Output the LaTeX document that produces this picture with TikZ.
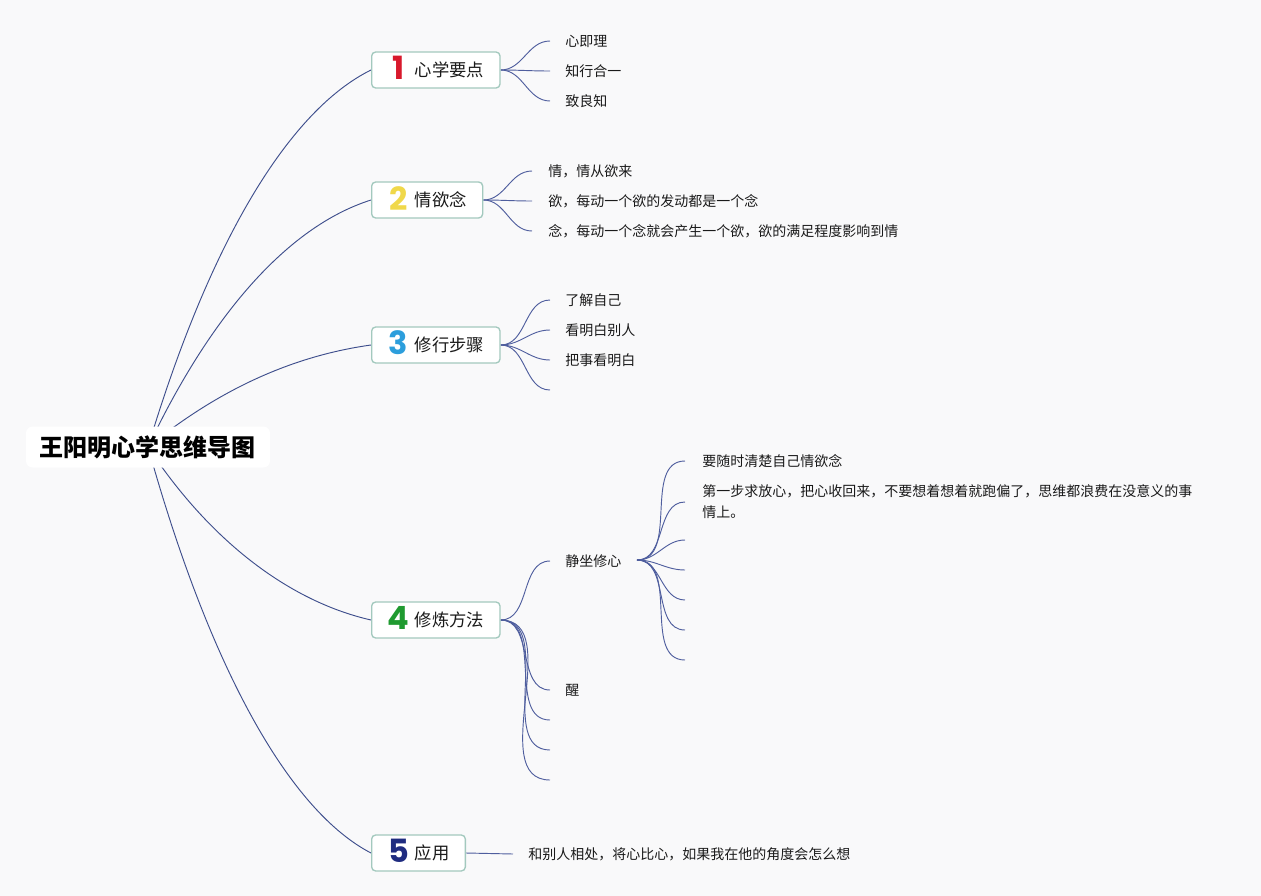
\documentclass[tikz,border=0pt]{standalone}
\usepackage{fontspec}
\setmainfont{Noto Sans CJK SC}
\newfontfamily\numfont{Poppins}
\usetikzlibrary{calc,backgrounds}
\definecolor{bgc}{HTML}{F9F9FA}
\definecolor{linec}{HTML}{4F5E9E}
\definecolor{rootlc}{HTML}{3E4E8C}
\definecolor{boxc}{HTML}{A3C9BE}
\definecolor{textc}{HTML}{1A1A1A}
\definecolor{n1}{HTML}{D8192C}
\definecolor{n2}{HTML}{F0D84A}
\definecolor{n3}{HTML}{2C9EDC}
\definecolor{n4}{HTML}{1F9A30}
\definecolor{n5}{HTML}{1F2C80}
\newcommand\bnum[2]{\makebox[16.5pt][c]{\smash{\raisebox{-2.5pt}{\numfont\bfseries\fontsize{24pt}{24pt}\selectfont\color{#1}#2}}}\hspace{3.75pt}}
\begin{document}
\begin{tikzpicture}[x=0.75pt,y=-0.75pt,
  conn/.style={draw=linec, line width=0.7pt},
  rconn/.style={draw=rootlc, line width=0.7pt},
  leaf/.style={anchor=west, inner sep=0pt, font=\fontsize{10.5pt}{13pt}\selectfont, text=textc},
  branch/.style={draw=boxc, fill=white, rounded corners=3pt, line width=1pt,
    minimum height=27pt, inner xsep=12pt, inner ysep=0pt, anchor=west,
    font=\fontsize{13pt}{15pt}\selectfont, text=textc},
  rootbox/.style={fill=white, rounded corners=5pt, minimum width=183pt, minimum height=30.75pt,
    inner sep=0pt, font=\bfseries\fontsize{18pt}{20pt}\selectfont, text=black},
]
\useasboundingbox (0,0) rectangle (1261,896);

% root and branches
\node[rootbox] (root) at (148,447) {王阳明心学思维导图};
\node[branch] (b1) at (371,70) {\bnum{n1}{1}心学要点};
\node[branch] (b2) at (371,200) {\bnum{n2}{2}情欲念};
\node[branch] (b3) at (371,345) {\bnum{n3}{3}修行步骤};
\node[branch] (b4) at (371,620) {\bnum{n4}{4}修炼方法};
\node[branch] (b5) at (371,853) {\bnum{n5}{5}应用};

% leaves of 1
\node[leaf] (l11) at (565,41) {心即理};
\node[leaf] (l12) at (565,71) {知行合一};
\node[leaf] (l13) at (565,101) {致良知};
% leaves of 2
\node[leaf] (l21) at (548,171) {情，情从欲来};
\node[leaf] (l22) at (548,201) {欲，每动一个欲的发动都是一个念};
\node[leaf] (l23) at (548,231) {念，每动一个念就会产生一个欲，欲的满足程度影响到情};
% leaves of 3
\node[leaf] (l31) at (565,300) {了解自己};
\node[leaf] (l32) at (565,330) {看明白别人};
\node[leaf] (l33) at (565,360) {把事看明白};
\coordinate (e31) at (550,390);
% leaves of 4
\node[leaf] (l41) at (565,561) {静坐修心};
\node[leaf] (l42) at (565,690) {醒};
\coordinate (e41) at (550,720);
\coordinate (e42) at (550,750);
\coordinate (e43) at (550,780);
\coordinate (jzhub) at (637,560);
\node[leaf] (m1) at (702,461) {要随时清楚自己情欲念};
\node[leaf, align=left, font=\fontsize{10.5pt}{15.75pt}\selectfont] (m2) at (702,502)
  {第一步求放心，把心收回来，不要想着想着就跑偏了，思维都浪费在没意义的事\\情上。};
\coordinate (m3) at (685,540);
\coordinate (m4) at (685,570);
\coordinate (m5) at (685,600);
\coordinate (m6) at (685,630);
\coordinate (m7) at (685,660);
% leaf of 5
\node[leaf] (l51) at (528,854) {和别人相处，将心比心，如果我在他的角度会怎么想};

\begin{pgfonlayer}{background}
\fill[bgc] (0,0) rectangle (1261,896);
% root connectors
\draw[rconn] (root.center) .. controls (212,234) and (292,109) .. (b1.west);
\draw[rconn] (root.center) .. controls (214,308) and (292,225) .. (b2.west);
\draw[rconn] (root.center) .. controls (218,390) and (292,356) .. (b3.west);
\draw[rconn] (root.center) .. controls (212,544) and (292,602) .. (b4.west);
\draw[rconn] (root.center) .. controls (212,676) and (292,812) .. (b5.west);
% branch 1
\foreach \l in {l11,l12,l13}
  \draw[conn] (b1.east) to[out=0,in=180] ([xshift=-11.25pt]\l.west);
% branch 2
\foreach \l in {l21,l22,l23}
  \draw[conn] (b2.east) to[out=0,in=180] ([xshift=-12pt]\l.west);
% branch 3
\foreach \l in {l31,l32,l33}
  \draw[conn] (b3.east) to[out=0,in=180] ([xshift=-11.25pt]\l.west);
\draw[conn] (b3.east) to[out=0,in=180] (e31);
% branch 4
\foreach \l in {l41,l42}
  \draw[conn] (b4.east) to[out=0,in=180] ([xshift=-11.25pt]\l.west);
\foreach \e in {e41,e42,e43}
  \draw[conn] (b4.east) to[out=0,in=180] (\e);
\foreach \l in {m1,m2}
  \draw[conn] (jzhub) to[out=0,in=180] ([xshift=-12.75pt]\l.west);
\foreach \e in {m3,m4,m5,m6,m7}
  \draw[conn] (jzhub) to[out=0,in=180] (\e);
% branch 5
\draw[conn] (b5.east) -- ([xshift=-11.25pt]l51.west);
\end{pgfonlayer}
\end{tikzpicture}
\end{document}
